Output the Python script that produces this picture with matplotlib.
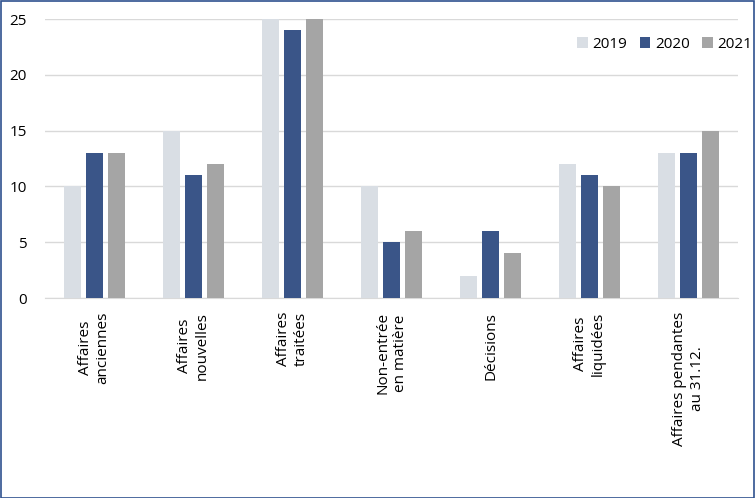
import numpy as np
import matplotlib.pyplot as plt
from matplotlib.patches import Rectangle

plt.rcParams['font.family'] = ['Open Sans', 'DejaVu Sans']

categories = ["Affaires\nanciennes", "Affaires\nnouvelles", "Affaires\ntraitées",
              "Non-entrée\nen matière", "Décisions", "Affaires\nliquidées",
              "Affaires pendantes\nau 31.12."]
years = ["2019", "2020", "2021"]
v2019 = [10, 15, 25, 10, 2, 12, 13]
v2020 = [13, 11, 24, 5, 6, 11, 13]
v2021 = [13, 12, 25, 6, 4, 10, 15]
colors = ["#D9DEE4", "#3A5588", "#A5A5A5"]

fig = plt.figure(figsize=(7.56, 4.98), dpi=100)
ax = fig.add_axes([45/756, 1-298/498, 693/756, 279/498])

x = np.arange(len(categories))
w = 0.18
step = 0.222
for i, (vals, lab) in enumerate(zip([v2019, v2020, v2021], years)):
    ax.bar(x + (i-1)*step, vals, width=w, color=colors[i], label=lab, zorder=3)

ax.set_xlim(-0.5, len(categories)-0.5)
ax.set_ylim(0, 25)
ax.set_yticks(range(0, 26, 5))
ax.grid(axis="y", color="#D9D9D9", linewidth=1, zorder=0)
for s in ["top", "right", "left"]:
    ax.spines[s].set_visible(False)
ax.spines["bottom"].set_color("#D9D9D9")
ax.tick_params(axis="both", length=0, labelsize=11, colors="#000000")
ax.tick_params(axis="y", pad=13)
ax.set_xticks(x)
ax.set_xticklabels(categories, rotation=90, ha="center", va="top",
                   multialignment="center")
ax.tick_params(axis="x", pad=10)

ax.legend(loc="upper right", bbox_to_anchor=(1.04, 0.985), ncol=3, frameon=False,
          fontsize=11, handlelength=0.7, handleheight=0.7, handletextpad=0.3,
          columnspacing=0.8)

fig.patches.append(Rectangle((0.001, 0.001), 0.997, 0.997, transform=fig.transFigure,
                             fill=False, edgecolor="#2F528F", linewidth=1.2))

fig.savefig("out.png", dpi=100)
